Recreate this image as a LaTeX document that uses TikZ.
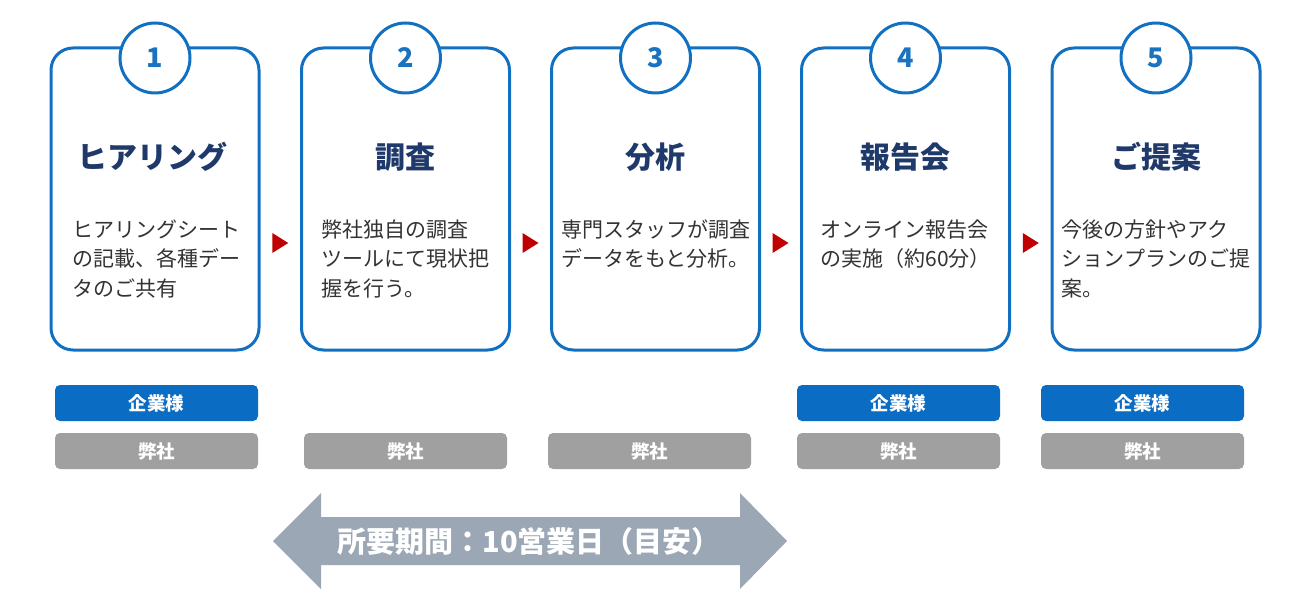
\documentclass[tikz,border=0pt]{standalone}
\usepackage{fontspec}
\setmainfont{Noto Sans CJK JP}
\usetikzlibrary{calc}
\definecolor{cardblue}{HTML}{1170C1}
\definecolor{numblue}{HTML}{1A73BE}
\definecolor{navy}{HTML}{1F3A6A}
\definecolor{textgray}{HTML}{333333}
\definecolor{tagblue}{HTML}{0A6CC2}
\definecolor{taggray}{HTML}{A0A0A0}
\definecolor{arrowgray}{HTML}{9BA7B5}
\definecolor{flowred}{HTML}{C00000}
\begin{document}
\begin{tikzpicture}[x=1pt,y=-1pt,
  card/.style={draw=cardblue, line width=3pt, rounded corners=22pt, minimum width=208pt, minimum height=302pt, inner sep=0pt},
  numcirc/.style={circle, draw=cardblue, line width=3pt, fill=white, minimum size=70pt, inner sep=0pt, font=\fontsize{27}{27}\selectfont\bfseries, text=numblue},
  steptitle/.style={inner sep=0pt, font=\fontsize{30}{30}\selectfont\bfseries, text=navy},
  body/.style={align=left, anchor=north, inner sep=0pt, font=\fontsize{21}{29.5}\selectfont, text=textgray},
  tagbox/.style={rounded corners=5pt, minimum width=203pt, minimum height=36pt, inner sep=0pt, font=\fontsize{18.5}{18.5}\selectfont\bfseries, text=white},
  client/.style={tagbox, fill=tagblue},
  us/.style={tagbox, fill=taggray},
  flowtri/.style={fill=flowred}
]
\useasboundingbox (0,0) rectangle (1304,604);
% cards
\foreach \i/\cx in {1/155,2/405.5,3/655.5,4/905.5,5/1156}{
  \node[card] (c\i) at (\cx,199) {};
  \node[numcirc] (n\i) at (\cx,58) {\i};
}
% titles
\node[steptitle] (t1) at (152,157) {ヒアリング};
\node[steptitle] (t2) at (405.5,157) {調査};
\node[steptitle] (t3) at (655.5,157) {分析};
\node[steptitle] (t4) at (905.5,157) {報告会};
\node[steptitle] (t5) at (1156,157) {ご提案};
% body texts
\node[body] (b1) at (156,219.5) {ヒアリングシート\\の記載、各種デー\\タのご共有};
\node[body] (b2) at (405.5,219.5) {弊社独自の調査\\ツールにて現状把\\握を行う。};
\node[body] (b3) at (655.5,219.5) {専門スタッフが調査\\データをもと分析。};
\node[body] (b4) at (905.5,219.5) {オンライン報告会\\の実施（約60分）};
\node[body] (b5) at (1156,219.5) {今後の方針やアク\\ションプランのご提\\案。};
% flow triangles between cards
\foreach \a/\b in {1/2,2/3,3/4,4/5}{
  \coordinate (m\a) at ($(c\a.east)!0.5!(c\b.west)+(0,44)$);
  \fill[flowtri] ($(m\a)+(-8,-10)$) -- ($(m\a)+(8,0)$) -- ($(m\a)+(-8,10)$) -- cycle;
}
% tags
\node[client] (k1) at (156.5,403) {企業様};
\node[us] (u1) at (156.5,451) {弊社};
\node[us] (u2) at (405.5,451) {弊社};
\node[us] (u3) at (649.5,451) {弊社};
\node[client] (k4) at (898.5,403) {企業様};
\node[us] (u4) at (898.5,451) {弊社};
\node[client] (k5) at (1142.5,403) {企業様};
\node[us] (u5) at (1142.5,451) {弊社};
% period arrow
\fill[arrowgray] (273,541) -- (321,493) -- (321,517) -- (740,517) -- (740,493) -- (787,541)
  -- (740,589) -- (740,565) -- (321,565) -- (321,589) -- cycle;
\node[inner sep=0pt, font=\fontsize{29}{29}\selectfont\bfseries, text=white] (period) at (529,541) {所要期間：10営業日（目安）};
\end{tikzpicture}
\end{document}
